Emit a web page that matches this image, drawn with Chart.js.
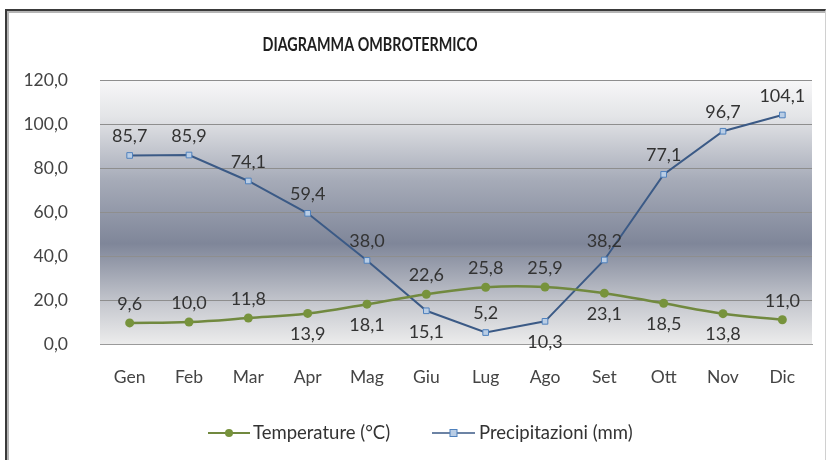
<!DOCTYPE html>
<html>
<head>
<meta charset="utf-8">
<script src="https://cdn.jsdelivr.net/npm/chart.js@4.4.1/dist/chart.umd.min.js"></script>
<style>
  html, body { margin: 0; padding: 0; background: #fff; }
  #wrap { position: relative; width: 829px; height: 460px; overflow: hidden; }
  #frame {
    position: absolute; left: 5px; top: 9px; width: 818px; height: 470px;
    border-left: 2px solid #3a3a3a; border-top: 2px solid #3a3a3a;
    border-right: 1px solid #d0d0d0;
    box-shadow: inset 2px 2px 0 #b5b5b5;
  }
  canvas { position: absolute; left: 0; top: 0; }
</style>
</head>
<body>
<div id="wrap">
  <div id="frame"></div>
  <canvas id="chart" width="829" height="460"></canvas>
</div>
<script>
const mesi = ["Gen", "Feb", "Mar", "Apr", "Mag", "Giu", "Lug", "Ago", "Set", "Ott", "Nov", "Dic"];
const temperature = [9.6, 10.0, 11.8, 13.9, 18.1, 22.6, 25.8, 25.9, 23.1, 18.5, 13.8, 11.0];
const precipitazioni = [85.7, 85.9, 74.1, 59.4, 38.0, 15.1, 5.2, 10.3, 38.2, 77.1, 96.7, 104.1];
const yTicks = [0, 20, 40, 60, 80, 100, 120];
// where each value label sits: "su" above the point, "giu" below
const posTemp = ["su", "su", "su", "giu", "giu", "su", "su", "su", "giu", "giu", "giu", "su"];
const posPrec = ["su", "su", "su", "su", "su", "giu", "su", "giu", "su", "su", "su", "su"];

const FONT = "Lato, 'Open Sans', sans-serif";
const fmt = v => v.toFixed(1).replace(".", ",");

const sfondo = {
  id: "sfondo",
  beforeDraw(chart) {
    const { ctx, chartArea: a } = chart;
    const g = ctx.createLinearGradient(0, a.top, 0, a.bottom);
    g.addColorStop(0, "#f7f7f8");
    g.addColorStop(0.14, "#e3e4e7");
    g.addColorStop(0.38, "#a6abb8");
    g.addColorStop(0.62, "#7f8699");
    g.addColorStop(0.86, "#c9cbd1");
    g.addColorStop(1, "#ececec");
    ctx.save();
    ctx.fillStyle = g;
    ctx.fillRect(a.left, a.top, a.right - a.left, a.bottom - a.top);
    ctx.restore();
  }
};

const etichette = {
  id: "etichette",
  afterDatasetsDraw(chart) {
    const ctx = chart.ctx;
    ctx.save();
    ctx.font = "18px " + FONT;
    ctx.fillStyle = "#333";
    ctx.textAlign = "center";
    ctx.textBaseline = "middle";
    [posTemp, posPrec].forEach((pos, di) => {
      const meta = chart.getDatasetMeta(di);
      meta.data.forEach((p, i) => {
        const v = chart.data.datasets[di].data[i];
        const dy = pos[i] === "su" ? -19 : 21;
        ctx.fillText(fmt(v), p.x, p.y + dy);
      });
    });
    // title, squeezed to the narrow width of the original
    const titolo = "DIAGRAMMA OMBROTERMICO";
    ctx.font = "bold 19px " + FONT;
    ctx.fillStyle = "#1e1e1e";
    const w = ctx.measureText(titolo).width;
    ctx.translate(370, 45);
    ctx.scale(215 / w, 1);
    ctx.fillText(titolo, 0, 0);
    ctx.restore();
  }
};

const legenda = {
  id: "legenda",
  afterDraw(chart) {
    const ctx = chart.ctx;
    const y = 433;
    ctx.save();
    ctx.font = "18.5px " + FONT;
    ctx.textBaseline = "middle";
    ctx.textAlign = "left";
    // Temperature
    ctx.strokeStyle = "#71893f"; ctx.lineWidth = 2;
    ctx.beginPath(); ctx.moveTo(208, y); ctx.lineTo(250, y); ctx.stroke();
    ctx.fillStyle = "#77933c";
    ctx.beginPath(); ctx.arc(229, y, 4, 0, Math.PI * 2); ctx.fill();
    ctx.fillStyle = "#333";
    ctx.fillText(chart.data.datasets[0].label, 253, y);
    // Precipitazioni
    ctx.strokeStyle = "#3b5a86"; ctx.lineWidth = 1.5;
    ctx.beginPath(); ctx.moveTo(432, y); ctx.lineTo(475, y); ctx.stroke();
    ctx.fillStyle = "#b9cde5"; ctx.strokeStyle = "#4f81bd"; ctx.lineWidth = 1;
    ctx.fillRect(450, y - 3.5, 7, 7); ctx.strokeRect(450, y - 3.5, 7, 7);
    ctx.fillStyle = "#333";
    ctx.fillText(chart.data.datasets[1].label, 479, y);
    ctx.restore();
  }
};

new Chart(document.getElementById("chart"), {
  type: "line",
  data: {
    labels: mesi,
    datasets: [
      {
        label: "Temperature (°C)",
        data: temperature,
        borderColor: "#71893f",
        backgroundColor: "#77933c",
        borderWidth: 2.5,
        tension: 0.4,
        pointStyle: "circle",
        pointRadius: 4.5,
        pointBorderWidth: 0
      },
      {
        label: "Precipitazioni (mm)",
        data: precipitazioni,
        borderColor: "#3b5a86",
        backgroundColor: "#b9cde5",
        borderWidth: 2,
        tension: 0,
        pointStyle: "rect",
        pointRadius: 4,
        pointBorderColor: "#4f81bd",
        pointBorderWidth: 1
      }
    ]
  },
  options: {
    responsive: false,
    animation: false,
    layout: { padding: { left: 10, right: 17, top: 80, bottom: 0 } },
    plugins: { legend: { display: false }, title: { display: false }, tooltip: { enabled: false } },
    scales: {
      x: {
        offset: true,
        grid: { display: false, drawTicks: false },
        border: { color: "#9a9a9a", width: 1 },
        ticks: { color: "#444", font: { family: FONT, size: 17.5 }, padding: 23 },
        afterFit(s) { s.height = 116; }
      },
      y: {
        min: 0, max: 120,
        afterBuildTicks(s) { s.ticks = yTicks.map(v => ({ value: v })); },
        grid: { color: "#8e8e8e", drawTicks: false, lineWidth: 1 },
        border: { display: false },
        ticks: { color: "#444", font: { family: FONT, size: 17.5 }, padding: 32, callback: v => fmt(v) },
        afterFit(s) { s.width = 90; }
      }
    }
  },
  plugins: [sfondo, etichette, legenda]
});
</script>
</body>
</html>
